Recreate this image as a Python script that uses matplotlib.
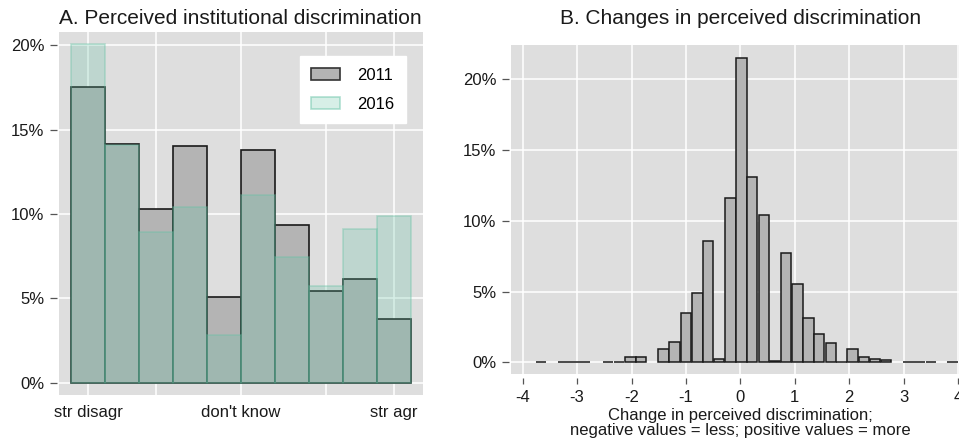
import matplotlib
matplotlib.use("Agg")
import matplotlib.pyplot as plt
from matplotlib.patches import Patch
from matplotlib.ticker import FuncFormatter

# Panel A: share of respondents per answer category (%)
categories = list(range(1, 11))
share_2011 = [17.5, 14.15, 10.3, 14.05, 5.05, 13.8, 9.35, 5.45, 6.15, 3.75]
share_2016 = [20.05, 14.1, 8.9, 10.4, 2.8, 11.15, 7.45, 5.7, 9.1, 9.9]
cat_ticks = [1, 5.5, 10]
cat_labels = ["str disagr", "don't know", "str agr"]

# Panel B: distribution of individual change 2011 -> 2016 (%)
change_centres = [-3.66, -3.25, -3.05, -2.85, -2.43, -2.23, -2.02, -1.82,
                  -1.41, -1.21, -1.00, -0.79, -0.59, -0.39, -0.18, 0.02,
                  0.22, 0.43, 0.64, 0.84, 1.05, 1.25, 1.45, 1.66, 1.86,
                  2.06, 2.27, 2.47, 2.68, 3.09, 3.29, 3.50, 3.90]
change_share = [0.04, 0.03, 0.03, 0.03, 0.02, 0.05, 0.40, 0.36,
                0.92, 1.46, 3.46, 4.92, 8.55, 0.21, 11.64, 21.5,
                13.07, 10.41, 0.09, 7.70, 5.56, 3.11, 2.0, 1.34, 0.01,
                0.92, 0.40, 0.21, 0.14, 0.04, 0.02, 0.02, 0.03]

W, H = 959, 441
bg = "#dedede"
teal = (0.4, 0.76, 0.647)
txt = "#1a1a1a"
pct = FuncFormatter(lambda v, p: f"{v:.0f}%")

plt.rcParams["font.family"] = ["Liberation Sans", "DejaVu Sans"]
plt.rcParams["font.size"] = 12
plt.rcParams["axes.unicode_minus"] = False

fig = plt.figure(figsize=(W / 100, H / 100), dpi=100)


def px_axes(x0, y0, x1, y1):
    return fig.add_axes([x0 / W, 1 - y1 / H, (x1 - x0) / W, (y1 - y0) / H])


def style(ax):
    ax.set_facecolor(bg)
    for s in ax.spines.values():
        s.set_visible(False)
    ax.set_axisbelow(True)
    ax.grid(True, which="both", color="white", linewidth=1.1)
    ax.tick_params(colors="#555555", labelcolor=txt, labelsize=12, width=0.9)


# ---- A. levels in both waves
axA = px_axes(59, 32, 423, 395)
style(axA)
axA.bar(categories, share_2011, width=1.0, color="#b4b4b4",
        edgecolor="#1a1a1a", linewidth=1.2)
axA.bar(categories, share_2016, width=1.0, color=teal + (0.26,),
        edgecolor=teal + (0.38,), linewidth=1.2)
axA.set_xlim(0.146, 10.86)
axA.set_ylim(-0.73, 20.78)
axA.set_yticks([0, 5, 10, 15, 20])
axA.yaxis.set_major_formatter(pct)
axA.set_xticks(cat_ticks)
axA.set_xticklabels(cat_labels)
axA.set_xticks([3, 8], minor=True)
axA.tick_params(axis="x", which="both", length=0, pad=7)
axA.tick_params(axis="y", length=5, pad=4)
axA.spines["left"].set_position(("outward", 1.5))
axA.legend(handles=[Patch(facecolor="#b4b4b4", edgecolor="#333333", linewidth=1.2, label="2011"),
                    Patch(facecolor=teal + (0.26,), edgecolor=teal + (0.5,), linewidth=1.2, label="2016")],
           loc="upper right", bbox_to_anchor=(0.953, 0.934), borderaxespad=0,
           frameon=True, fancybox=False, edgecolor="white", framealpha=1,
           handlelength=1.75, handleheight=0.75, handletextpad=1.0,
           labelspacing=0.85, borderpad=0.7, fontsize=12)

# ---- B. individual changes
axB = px_axes(510.7, 45, 970, 374)
style(axB)
axB.bar(change_centres, change_share, width=0.19, color="#b4b4b4",
        edgecolor="#1a1a1a", linewidth=1.1)
axB.set_xlim(-4.22, 4.22)
axB.set_ylim(-0.83, 22.42)
axB.set_yticks([0, 5, 10, 15, 20])
axB.yaxis.set_major_formatter(pct)
axB.set_xticks(range(-4, 5))
axB.spines["bottom"].set_position(("outward", 2.8))
axB.spines["left"].set_position(("outward", 1.3))
axB.tick_params(axis="x", length=4.6, pad=4)
axB.tick_params(axis="y", length=5, pad=4)
axB.set_xlabel("Change in perceived discrimination;\nnegative values = less; positive values = more",
               fontsize=12, color=txt, linespacing=1.0, labelpad=2)

title_font = ["Liberation Sans Narrow", "Liberation Sans", "DejaVu Sans"]
fig.text(240.5 / W, 1 - 24.5 / H, "A. Perceived institutional discrimination",
         ha="center", va="baseline", fontsize=15, color=txt, family=title_font)
fig.text(741 / W, 1 - 24.5 / H, "B. Changes in perceived discrimination",
         ha="center", va="baseline", fontsize=15, color=txt, family=title_font)

fig.savefig("out.png", dpi=100)
